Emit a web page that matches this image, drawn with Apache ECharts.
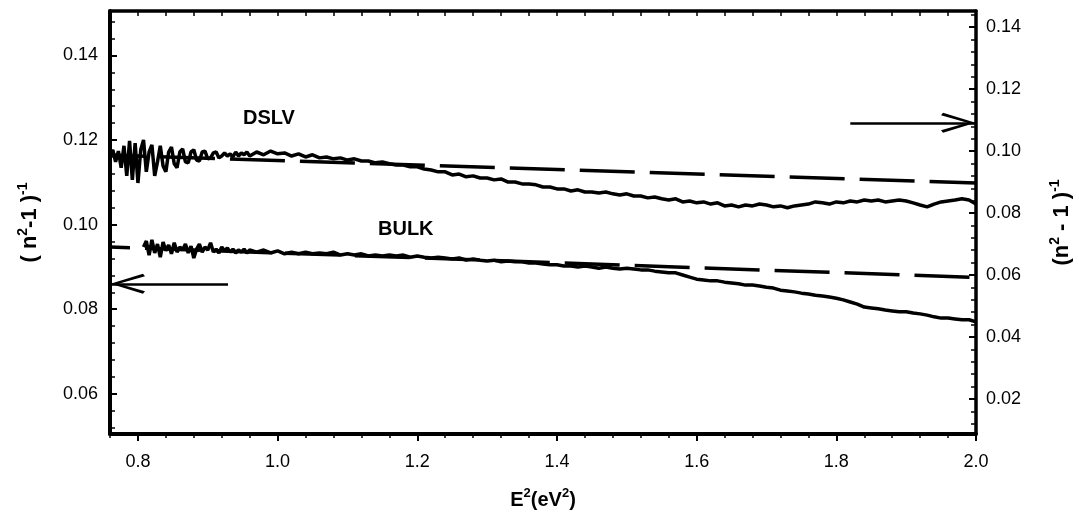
<!DOCTYPE html>
<html>
<head>
<meta charset="utf-8">
<script src="https://cdn.jsdelivr.net/npm/echarts@6/dist/echarts.min.js"></script>
<style>
html,body{margin:0;padding:0;background:#fff;}
#chart{width:1079px;height:525px;}
</style>
</head>
<body>
<div id="chart"></div>
<script>
// ---- data ----
const xFineDslv = [0.760,0.764,0.768,0.772,0.776,0.780,0.784,0.788,0.792,0.796,0.800,0.804,0.808,0.812,0.816,0.820,0.824,0.828,0.832,0.836,0.840,0.844,0.848,0.852,0.856,0.860,0.864,0.868,0.872,0.876,0.880,0.884,0.888,0.892,0.896,0.900,0.904,0.908,0.912,0.916,0.920,0.924,0.928,0.932,0.936,0.940,0.944,0.948,0.952,0.956,0.960];
const xFineBulk = [0.808,0.812,0.816,0.820,0.824,0.828,0.832,0.836,0.840,0.844,0.848,0.852,0.856,0.860,0.864,0.868,0.872,0.876,0.880,0.884,0.888,0.892,0.896,0.900,0.904,0.908,0.912,0.916,0.920,0.924,0.928,0.932,0.936,0.940,0.944,0.948,0.952,0.956,0.960];
const xCoarse = [0.97,0.98,0.99,1.00,1.01,1.02,1.03,1.04,1.05,1.06,1.07,1.08,1.09,1.10,1.11,1.12,1.13,1.14,1.15,1.16,1.17,1.18,1.19,1.20,1.21,1.22,1.23,1.24,1.25,1.26,1.27,1.28,1.29,1.30,1.31,1.32,1.33,1.34,1.35,1.36,1.37,1.38,1.39,1.40,1.41,1.42,1.43,1.44,1.45,1.46,1.47,1.48,1.49,1.50,1.51,1.52,1.53,1.54,1.55,1.56,1.57,1.58,1.59,1.60,1.61,1.62,1.63,1.64,1.65,1.66,1.67,1.68,1.69,1.70,1.71,1.72,1.73,1.74,1.75,1.76,1.77,1.78,1.79,1.80,1.81,1.82,1.83,1.84,1.85,1.86,1.87,1.88,1.89,1.90,1.91,1.92,1.93,1.94,1.95,1.96,1.97,1.98,1.99,2.00];

// DSLV (right axis)
const dslvFine = [0.0984,0.1004,0.0965,0.1000,0.0946,0.1017,0.0920,0.1033,0.0907,0.1026,0.0897,0.1004,0.1036,0.0933,0.0997,0.1020,0.0920,0.0965,0.1017,0.0952,0.0933,0.0997,0.1013,0.0959,0.0946,0.0997,0.1007,0.0965,0.0962,0.0997,0.1004,0.0971,0.0968,0.0997,0.1000,0.0975,0.0978,0.0994,0.0997,0.0978,0.0984,0.0994,0.0984,0.0991,0.0981,0.0997,0.0984,0.0994,0.0988,0.0997,0.0984];
const dslvCoarse = [0.0997,0.0988,0.1000,0.0991,0.0994,0.0984,0.0991,0.0981,0.0988,0.0978,0.0981,0.0975,0.0978,0.0971,0.0975,0.0968,0.0968,0.0962,0.0965,0.0959,0.0955,0.0955,0.0949,0.0949,0.0942,0.0939,0.0933,0.0933,0.0923,0.0926,0.0917,0.0920,0.0913,0.0913,0.0907,0.0910,0.0900,0.0900,0.0894,0.0894,0.0891,0.0884,0.0884,0.0878,0.0878,0.0871,0.0875,0.0868,0.0868,0.0865,0.0868,0.0862,0.0858,0.0862,0.0855,0.0855,0.0849,0.0852,0.0846,0.0842,0.0846,0.0836,0.0839,0.0833,0.0836,0.0829,0.0833,0.0823,0.0826,0.0820,0.0826,0.0823,0.0829,0.0826,0.0820,0.0823,0.0817,0.0823,0.0826,0.0829,0.0836,0.0833,0.0829,0.0836,0.0833,0.0839,0.0836,0.0842,0.0839,0.0842,0.0836,0.0839,0.0842,0.0839,0.0833,0.0826,0.0820,0.0829,0.0836,0.0839,0.0842,0.0846,0.0842,0.0829];

// BULK (left axis)
const bulkFine = [0.0947,0.0961,0.0928,0.0964,0.0933,0.0954,0.0923,0.0959,0.0938,0.0952,0.0931,0.0957,0.0935,0.0947,0.0940,0.0954,0.0933,0.0949,0.0921,0.0942,0.0954,0.0935,0.0947,0.0940,0.0957,0.0935,0.0942,0.0933,0.0947,0.0938,0.0945,0.0935,0.0942,0.0933,0.0940,0.0935,0.0942,0.0933,0.0940];
const bulkCoarse = [0.0935,0.0940,0.0933,0.0938,0.0931,0.0935,0.0931,0.0935,0.0931,0.0933,0.0931,0.0935,0.0928,0.0931,0.0928,0.0931,0.0926,0.0928,0.0926,0.0928,0.0926,0.0928,0.0923,0.0926,0.0923,0.0921,0.0923,0.0921,0.0919,0.0921,0.0916,0.0919,0.0916,0.0914,0.0916,0.0912,0.0914,0.0912,0.0912,0.0909,0.0909,0.0907,0.0905,0.0905,0.0902,0.0902,0.0900,0.0902,0.0900,0.0897,0.0900,0.0897,0.0895,0.0897,0.0895,0.0893,0.0893,0.0890,0.0888,0.0886,0.0886,0.0881,0.0876,0.0871,0.0869,0.0867,0.0867,0.0864,0.0862,0.0860,0.0857,0.0857,0.0855,0.0852,0.0850,0.0845,0.0843,0.0841,0.0838,0.0836,0.0833,0.0831,0.0829,0.0826,0.0822,0.0817,0.0812,0.0805,0.0803,0.0801,0.0798,0.0796,0.0794,0.0794,0.0791,0.0789,0.0786,0.0782,0.0779,0.0779,0.0777,0.0775,0.0775,0.0770];

// dashed fit lines
const dslvFitX = [0.76, 2.0];
const dslvFitY = [0.0987, 0.0897];
const bulkFitX = [0.76, 2.0];
const bulkFitY = [0.0947, 0.0875];

// arrows
const leftArrowX = [0.929, 0.76];
const leftArrowY = [0.0860, 0.0860];
const rightArrowX = [1.82, 2.0];
const rightArrowY = [0.1091, 0.1091];

// ticks / labels
const xLabels = [0.8, 1.0, 1.2, 1.4, 1.6, 1.8, 2.0];
const xMinor = [0.76,0.80,0.84,0.88,0.92,0.96,1.00,1.04,1.08,1.12,1.16,1.20,1.24,1.28,1.32,1.36,1.40,1.44,1.48,1.52,1.56,1.60,1.64,1.68,1.72,1.76,1.80,1.84,1.88,1.92,1.96,2.00];
const leftLabels = [0.06, 0.08, 0.10, 0.12, 0.14];
const leftMinor = [0.052,0.056,0.060,0.064,0.068,0.072,0.076,0.080,0.084,0.088,0.092,0.096,0.100,0.104,0.108,0.112,0.116,0.120,0.124,0.128,0.132,0.136,0.140,0.144,0.148];
const rightLabels = [0.02, 0.04, 0.06, 0.08, 0.10, 0.12, 0.14];
const rightMinor = [0.012,0.016,0.020,0.024,0.028,0.032,0.036,0.040,0.044,0.048,0.052,0.056,0.060,0.064,0.068,0.072,0.076,0.080,0.084,0.088,0.092,0.096,0.100,0.104,0.108,0.112,0.116,0.120,0.124,0.128,0.132,0.136,0.140,0.144];

// ---- build ----
const zip = (xs, ys) => xs.map((x, i) => [x, ys[i]]);
const dslvData = zip(xFineDslv.concat(xCoarse), dslvFine.concat(dslvCoarse));
const bulkData = zip(xFineBulk.concat(xCoarse), bulkFine.concat(bulkCoarse));

const FONT = '"Liberation Sans", Arial, Helvetica, sans-serif';
const X_MIN = 0.76, X_MAX = 2.0;
const L_MIN = 0.0505, L_MAX = 0.1505;
const R_MIN = 0.0087, R_MAX = 0.1452;

const chevron = 'path://M10,35 L20,67 L17.5,69 L10,43 L2.5,69 L0,67 Z M10,0 L10.05,0 L10,0.05 Z';

const nameStyle = (size, sup, lh) => ({
  fontFamily: FONT, fontSize: size, fontWeight: 'bold', color: '#000', lineHeight: lh,
  rich: { s: { fontFamily: FONT, fontSize: sup, fontWeight: 'bold', color: '#000', verticalAlign: 'top', lineHeight: sup + 1 } }
});

const baseX = { type: 'value', min: X_MIN, max: X_MAX, splitLine: { show: false } };
const baseYL = { type: 'value', min: L_MIN, max: L_MAX, position: 'left', splitLine: { show: false } };
const baseYR = { type: 'value', min: R_MIN, max: R_MAX, position: 'right', splitLine: { show: false } };

const chart = echarts.init(document.getElementById('chart'), null, { renderer: 'canvas' });
chart.setOption({
  animation: false,
  backgroundColor: '#fff',
  grid: { left: 110, right: 103, top: 11, bottom: 91, containLabel: false, outerBoundsMode: 'none' },
  xAxis: [
    Object.assign({}, baseX, {
      position: 'bottom',
      axisLine: { show: true, lineStyle: { color: '#000', width: 4 } },
      axisTick: { show: true, inside: false, length: 7, customValues: xLabels, lineStyle: { color: '#000', width: 2 } },
      axisLabel: { show: true, customValues: xLabels, margin: 19, formatter: v => v.toFixed(1), fontFamily: FONT, fontSize: 18, color: '#000' },
      name: 'E{s|2}(eV{s|2})', nameLocation: 'middle', nameGap: 53, nameTextStyle: nameStyle(20, 13, 26)
    }),
    Object.assign({}, baseX, {
      position: 'bottom',
      axisLine: { show: false },
      axisTick: { show: true, inside: false, length: 4, customValues: xMinor, lineStyle: { color: '#000', width: 1.5 } },
      axisLabel: { show: false }
    }),
    Object.assign({}, baseX, {
      position: 'top',
      axisLine: { show: true, lineStyle: { color: '#000', width: 3.5 } },
      axisTick: { show: true, inside: true, length: 5, customValues: xMinor, lineStyle: { color: '#000', width: 1.5 } },
      axisLabel: { show: false }
    })
  ],
  yAxis: [
    Object.assign({}, baseYL, {
      axisLine: { show: true, lineStyle: { color: '#000', width: 4 } },
      axisTick: { show: true, inside: true, length: 7, customValues: leftLabels, lineStyle: { color: '#000', width: 2 } },
      axisLabel: { show: true, customValues: leftLabels, margin: 12, formatter: v => v.toFixed(2), fontFamily: FONT, fontSize: 18, color: '#000' },
      name: '( n{s|2}-1 ){s|-1}', nameLocation: 'middle', nameRotate: 90, nameGap: 66, nameTextStyle: nameStyle(22, 14, 28)
    }),
    Object.assign({}, baseYR, {
      axisLine: { show: true, lineStyle: { color: '#000', width: 3.5 } },
      axisTick: { show: true, inside: true, length: 7, customValues: rightLabels, lineStyle: { color: '#000', width: 2 } },
      axisLabel: { show: true, customValues: rightLabels, margin: 10, formatter: v => v.toFixed(2), fontFamily: FONT, fontSize: 18, color: '#000' },
      name: '(n{s|2} - 1 ){s|-1}', nameLocation: 'middle', nameRotate: 90, nameGap: 72, nameTextStyle: nameStyle(22, 14, 28)
    }),
    Object.assign({}, baseYL, {
      axisLine: { show: false },
      axisTick: { show: true, inside: true, length: 5, customValues: leftMinor, lineStyle: { color: '#000', width: 1.5 } },
      axisLabel: { show: false }
    }),
    Object.assign({}, baseYR, {
      axisLine: { show: false },
      axisTick: { show: true, inside: true, length: 5, customValues: rightMinor, lineStyle: { color: '#000', width: 1.5 } },
      axisLabel: { show: false }
    })
  ],
  graphic: [
    { type: 'text', left: 243, top: 108, style: { text: 'DSLV', font: 'bold 20px ' + FONT, fill: '#000' } },
    { type: 'text', left: 378, top: 219, style: { text: 'BULK', font: 'bold 20px ' + FONT, fill: '#000' } }
  ],
  series: [
    {
      name: 'DSLV fit', type: 'line', xAxisIndex: 0, yAxisIndex: 1, showSymbol: false, silent: true,
      data: zip(dslvFitX, dslvFitY),
      lineStyle: { color: '#000', width: 3.5, type: [55, 15], dashOffset: 20 }
    },
    {
      name: 'BULK fit', type: 'line', xAxisIndex: 0, yAxisIndex: 0, showSymbol: false, silent: true,
      data: zip(bulkFitX, bulkFitY),
      lineStyle: { color: '#000', width: 3.5, type: [55, 15], dashOffset: 35 }
    },
    {
      name: 'DSLV', type: 'line', xAxisIndex: 0, yAxisIndex: 1, showSymbol: false, silent: true,
      data: dslvData,
      lineStyle: { color: '#000', width: 3.5 },
      markLine: {
        silent: true, animation: false, symbol: ['none', chevron], symbolSize: [20, 70],
        label: { show: false }, emphasis: { disabled: true },
        lineStyle: { color: '#000', width: 2.5, type: 'solid' },
        data: [[{ coord: [rightArrowX[0], rightArrowY[0]] }, { coord: [rightArrowX[1], rightArrowY[1]] }]]
      }
    },
    {
      name: 'BULK', type: 'line', xAxisIndex: 0, yAxisIndex: 0, showSymbol: false, silent: true,
      data: bulkData,
      lineStyle: { color: '#000', width: 3.5 },
      markLine: {
        silent: true, animation: false, symbol: ['none', chevron], symbolSize: [20, 70],
        label: { show: false }, emphasis: { disabled: true },
        lineStyle: { color: '#000', width: 2.5, type: 'solid' },
        data: [[{ coord: [leftArrowX[0], leftArrowY[0]] }, { coord: [leftArrowX[1], leftArrowY[1]] }]]
      }
    }
  ]
});
</script>
</body>
</html>
